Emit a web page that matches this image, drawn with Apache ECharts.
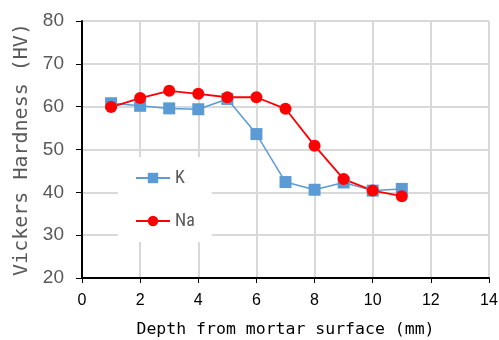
<!DOCTYPE html>
<html><head><meta charset="utf-8">
<script src="https://cdn.jsdelivr.net/npm/echarts@6/dist/echarts.min.js"></script>
<style>html,body{margin:0;padding:0;background:#fff}#c{width:499px;height:340px}</style>
</head><body><div id="c"></div>
<script>
const depth = [1,2,3,4,5,6,7,8,9,10,11];
const kValues = [60.8,60.2,59.6,59.4,61.8,53.6,42.4,40.6,42.3,40.4,40.8];
const naValues = [59.9,62.0,63.7,63.0,62.2,62.2,59.5,50.9,43.1,40.4,39.1];
const xTicks = [0,2,4,6,8,10,12,14];
const yTicks = [20,30,40,50,60,70,80];

const chart = echarts.init(document.getElementById('c'));
chart.setOption({
  animation:false,
  grid:{left:82,right:10,top:21,bottom:62,show:true,borderColor:'#404040',borderWidth:1,
        outerBoundsMode:'none',containLabel:false},
  legend:{
    orient:'vertical', left:118, top:157, itemGap:25, itemWidth:34, itemHeight:13,
    backgroundColor:'#fff', padding:[12,17,12,17],
    textStyle:{fontSize:18,color:'#595959',fontFamily:'Liberation Sans Narrow, Roboto Condensed, sans-serif'},
    data:['K','Na']
  },
  xAxis:{
    type:'value', min:xTicks[0], max:xTicks[xTicks.length-1], interval:2,
    name:'Depth from mortar surface (mm)', nameLocation:'middle', nameGap:43,
    nameTextStyle:{fontSize:16.5,color:'#000',fontFamily:'DejaVu Sans Mono, monospace'},
    axisLine:{lineStyle:{color:'#000',width:2}},
    axisTick:{show:true,length:5,lineStyle:{color:'#000'}},
    axisLabel:{fontSize:16,color:'#000',margin:15,fontFamily:'Liberation Sans, sans-serif'},
    splitLine:{lineStyle:{color:'#d9d9d9',width:2}}
  },
  yAxis:{
    type:'value', min:yTicks[0], max:yTicks[yTicks.length-1], interval:10,
    name:'Vickers Hardness (HV)', nameLocation:'middle', nameGap:50,
    nameTextStyle:{fontSize:20,color:'#595959',fontFamily:'DejaVu Sans Mono, monospace'},
    axisLine:{show:true,lineStyle:{color:'#000',width:2}},
    axisTick:{show:true,length:6,lineStyle:{color:'#000'}},
    axisLabel:{fontSize:19,color:'#595959',margin:18,fontFamily:'Liberation Sans, sans-serif'},
    splitLine:{lineStyle:{color:'#d9d9d9',width:2}}
  },
  series:[
    {name:'K',type:'line',data:depth.map((d,i)=>[d,kValues[i]]),
     symbol:'rect',symbolSize:12,itemStyle:{color:'#5b9bd5'},lineStyle:{color:'#5b9bd5',width:1.5}},
    {name:'Na',type:'line',data:depth.map((d,i)=>[d,naValues[i]]),
     symbol:'circle',symbolSize:12,itemStyle:{color:'#ff0000'},lineStyle:{color:'#ff0000',width:1.8}}
  ]
});
</script></body></html>
